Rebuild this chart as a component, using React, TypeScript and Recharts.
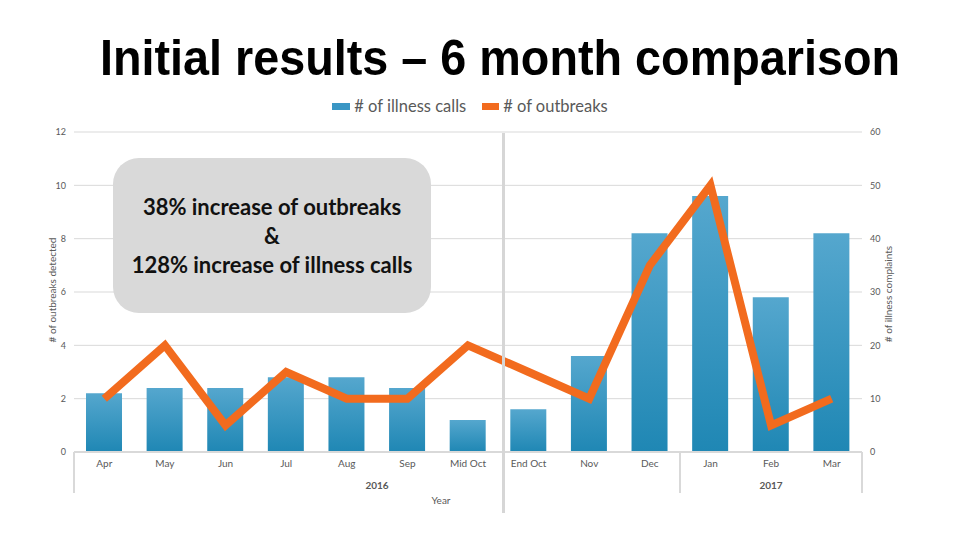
import { ComposedChart, Bar, Line, XAxis, YAxis, CartesianGrid } from "recharts";

const months = ["Apr", "May", "Jun", "Jul", "Aug", "Sep", "Mid Oct", "End Oct", "Nov", "Dec", "Jan", "Feb", "Mar"];
const illnessCalls = [11, 12, 12, 14, 14, 12, 6, 8, 18, 41, 48, 29, 41];
const outbreaks = [2, 4, 1, 3, 2, 2, 4, 3, 2, 7, 10, 1, 2];
const yearGroups = [
    { year: "2016", count: 10 },
    { year: "2017", count: 3 },
];
const leftTicks = [0, 2, 4, 6, 8, 10, 12];
const rightTicks = [0, 10, 20, 30, 40, 50, 60];

const data = months.map((m, i) => ({ month: m, calls: illnessCalls[i], outbreaks: outbreaks[i] }));

// plot area in page pixels
const PLOT_LEFT = 74;
const PLOT_RIGHT = 862;
const PLOT_TOP = 132;
const PLOT_BOTTOM = 452;
const AXIS_W = 30;
const X_AXIS_H = 30;

const BLUE = "#3a96c4";
const ORANGE = "#f26b1e";
const GREY_TEXT = "#595959";
const FONT = "Lato, 'Open Sans', sans-serif";

export default function App() {
    const band = (PLOT_RIGHT - PLOT_LEFT) / months.length;

    // year grouping under the month labels
    let start = 0;
    const groups = yearGroups.map(g => {
        const x0 = PLOT_LEFT + start * band;
        start += g.count;
        return { ...g, x0, x1: PLOT_LEFT + start * band };
    });

    return (
        <div style={{ position: "fixed", left: 0, top: 0, width: 960, height: 540, background: "#fff", fontFamily: FONT, overflow: "hidden" }}>
            <div style={{ position: "absolute", left: 20, width: 960, top: 28, textAlign: "center", fontFamily: "'Liberation Sans', Arial, sans-serif", fontSize: 50, fontWeight: 700, lineHeight: "60px", color: "#000", transform: "scaleX(0.935)" }}>
                Initial results – 6 month comparison
            </div>

            {/* legend */}
            <div style={{ position: "absolute", top: 96, left: 0, width: 960, display: "flex", justifyContent: "center", gap: 16, fontSize: 16.5, color: GREY_TEXT, paddingLeft: 0, paddingRight: 20, boxSizing: "border-box" }}>
                <div style={{ display: "flex", alignItems: "center", gap: 4 }}>
                    <span style={{ width: 18, height: 7, background: BLUE, display: "inline-block" }} />
                    <span># of illness calls</span>
                </div>
                <div style={{ display: "flex", alignItems: "center", gap: 4 }}>
                    <span style={{ width: 17, height: 7, background: ORANGE, display: "inline-block" }} />
                    <span># of outbreaks</span>
                </div>
            </div>

            <div style={{ position: "absolute", left: 0, top: 0 }}>
                <ComposedChart
                    width={960}
                    height={540}
                    data={data}
                    margin={{ top: PLOT_TOP, left: PLOT_LEFT - AXIS_W, right: 960 - PLOT_RIGHT - AXIS_W, bottom: 540 - PLOT_BOTTOM - X_AXIS_H }}
                >
                    <defs>
                        <linearGradient id="barGrad" x1="0" y1="0" x2="0" y2="1">
                            <stop offset="0%" stopColor="#55a7ce" />
                            <stop offset="100%" stopColor="#1f87b4" />
                        </linearGradient>
                    </defs>
                    <CartesianGrid yAxisId="left" vertical={false} stroke="#d9d9d9" />
                    <XAxis
                        dataKey="month"
                        interval={0}
                        height={X_AXIS_H}
                        tickLine={false}
                        axisLine={{ stroke: "#d9d9d9", strokeWidth: 2 }}
                        tick={{ fontSize: 10, fill: GREY_TEXT, fontFamily: FONT }}
                    />
                    <YAxis
                        yAxisId="left"
                        width={AXIS_W}
                        domain={[0, 12]}
                        ticks={leftTicks}
                        axisLine={false}
                        tickLine={false}
                        tick={{ fontSize: 9, fill: GREY_TEXT, fontFamily: FONT }}
                    />
                    <YAxis
                        yAxisId="right"
                        orientation="right"
                        width={AXIS_W}
                        domain={[0, 60]}
                        ticks={rightTicks}
                        axisLine={false}
                        tickLine={false}
                        tick={{ fontSize: 9, fill: GREY_TEXT, fontFamily: FONT, textAnchor: "start" }}
                    />
                    <Bar yAxisId="right" dataKey="calls" fill="url(#barGrad)" barSize={36} isAnimationActive={false} />
                    <Line
                        yAxisId="left"
                        type="linear"
                        dataKey="outbreaks"
                        stroke={ORANGE}
                        strokeWidth={8}
                        dot={false}
                        activeDot={false}
                        isAnimationActive={false}
                    />
                </ComposedChart>
            </div>

            {/* axis titles */}
            <div style={{ position: "absolute", left: 52, top: 290, transform: "translate(-50%, -50%) rotate(-90deg)", fontSize: 10, color: GREY_TEXT, whiteSpace: "nowrap" }}>
                # of outbreaks detected
            </div>
            <div style={{ position: "absolute", left: 888, top: 294, transform: "translate(-50%, -50%) rotate(-90deg)", fontSize: 10, color: GREY_TEXT, whiteSpace: "nowrap" }}>
                # of illness complaints
            </div>

            {/* year grouping */}
            {groups.map(g => (
                <div key={g.year}>
                    <div style={{ position: "absolute", left: g.x0 - 1, top: PLOT_BOTTOM, width: 2, height: 41, background: "#d9d9d9" }} />
                    <div style={{ position: "absolute", left: g.x0, width: g.x1 - g.x0, top: 479, textAlign: "center", fontSize: 10, fontWeight: 700, color: GREY_TEXT }}>
                        {g.year}
                    </div>
                </div>
            ))}
            <div style={{ position: "absolute", left: PLOT_RIGHT - 1, top: PLOT_BOTTOM, width: 2, height: 41, background: "#d9d9d9" }} />
            <div style={{ position: "absolute", left: 441, top: 500, transform: "translate(-50%, -50%)", fontSize: 10, color: GREY_TEXT }}>
                Year
            </div>

            {/* separator between mid and end October */}
            <div style={{ position: "absolute", left: 502, top: 133, width: 3, height: 380, background: "#d6d6d6" }} />

            {/* annotation */}
            <div style={{ position: "absolute", left: 113, top: 158, width: 318, height: 155, background: "#d9d9d9", borderRadius: 26, display: "flex", alignItems: "center", justifyContent: "center", textAlign: "center", fontSize: 22, fontWeight: 700, lineHeight: "29px", color: "#111" }}>
                <div>
                    38% increase of outbreaks
                    <br />&amp;
                    <br />128% increase of illness calls
                </div>
            </div>
        </div>
    );
}
